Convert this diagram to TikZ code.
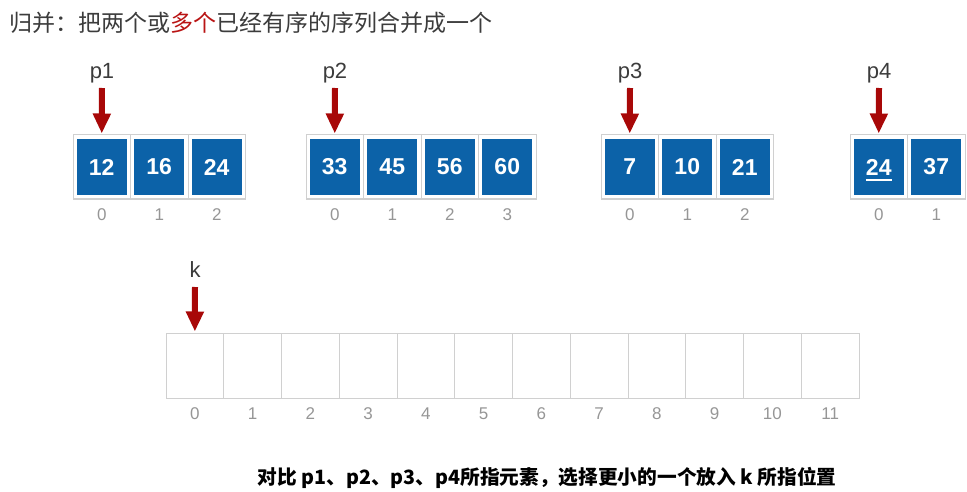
\documentclass[tikz,border=0pt]{standalone}
\usepackage{fontspec}
\setmainfont{Liberation Sans}
\newfontfamily\cjk{Noto Sans CJK SC}
\usetikzlibrary{arrows.meta}
\definecolor{cellblue}{RGB}{12,98,168}
\definecolor{ptrred}{RGB}{168,8,8}
\definecolor{gridgray}{RGB}{208,208,208}
\definecolor{idxgray}{RGB}{150,150,150}
\definecolor{titlegray}{RGB}{60,60,60}
\definecolor{hired}{RGB}{185,20,20}
\begin{document}
\begin{tikzpicture}[x=1pt,y=-1pt,
  cellbox/.style={draw=gridgray, line width=1pt, minimum width=57.5pt, minimum height=64pt, inner sep=0pt, outer sep=0pt},
  bigcell/.style={draw=gridgray, line width=1pt, minimum width=57.75pt, minimum height=65pt, inner sep=0pt, outer sep=0pt},
  valbox/.style={fill=cellblue, minimum width=50pt, minimum height=56pt, inner sep=0pt, text=white, font=\bfseries\fontsize{23}{23}\selectfont},
  idx/.style={text=idxgray, font=\fontsize{17}{17}\selectfont, inner sep=0pt},
  ptrlabel/.style={text=titlegray, font=\fontsize{22}{22}\selectfont, inner sep=0pt, anchor=base},
  ptr/.style={draw=ptrred, line width=6pt, -{Triangle[width=17pt,length=20pt]}, shorten >=1.5pt}
]
\useasboundingbox (0,0) rectangle (967,492);

% title
\node[anchor=west, inner sep=0pt, text=titlegray, font=\cjk\fontsize{23}{23}\selectfont] (title) at (9,23)
  {归并：把两个或\textcolor{hired}{多个}已经有序的序列合并成一个};

% array 1
\foreach \v [count=\i from 0] in {12,16,24} {
  \node[cellbox] (a\i) at (73+28.75+57.5*\i,167) {};
  \node[valbox] (av\i) at (a\i) {\v};
  \node[idx] (ai\i) at (73+28.75+57.5*\i,215) {\i};
}
% array 2
\foreach \v [count=\i from 0] in {33,45,56,60} {
  \node[cellbox] (b\i) at (306+28.75+57.5*\i,167) {};
  \node[valbox] (bv\i) at (b\i) {\v};
  \node[idx] (bi\i) at (306+28.75+57.5*\i,215) {\i};
}
% array 3
\foreach \v [count=\i from 0] in {7,10,21} {
  \node[cellbox] (c\i) at (601+28.75+57.5*\i,167) {};
  \node[valbox] (cv\i) at (c\i) {\v};
  \node[idx] (ci\i) at (601+28.75+57.5*\i,215) {\i};
}
% array 4
\foreach \v [count=\i from 0] in {24,37} {
  \node[cellbox] (d\i) at (850+28.75+57.5*\i,167) {};
  \node[valbox] (dv\i) at (d\i) {\v};
  \node[idx] (di\i) at (850+28.75+57.5*\i,215) {\i};
}
\draw[white, line width=1.5pt] ([xshift=-13pt,yshift=-13pt]dv0.center) -- ([xshift=13pt,yshift=-13pt]dv0.center);

% result array
\foreach \i in {0,...,11} {
  \node[bigcell] (r\i) at (166+28.875+57.75*\i,365.5) {};
  \node[idx] (ri\i) at (166+28.875+57.75*\i,414) {\i};
}

% pointers
\node[ptrlabel] (p1) at (102,79) {p1};
\node[ptrlabel] (p2) at (335,79) {p2};
\node[ptrlabel] (p3) at (630,79) {p3};
\node[ptrlabel] (p4) at (879,79) {p4};
\node[ptrlabel] (k) at (195,277) {k};
\coordinate (s1) at (102,88);
\coordinate (s2) at (335,88);
\coordinate (s3) at (630,88);
\coordinate (s4) at (879,88);
\coordinate (sk) at (195,287);
\draw[ptr] (s1) -- (a0.north);
\draw[ptr] (s2) -- (b0.north);
\draw[ptr] (s3) -- (c0.north);
\draw[ptr] (s4) -- (d0.north);
\draw[ptr] (sk) -- (r0.north);

% caption
\node[inner sep=0pt, font=\cjk\bfseries\fontsize{19.7}{19.7}\selectfont] (cap) at (547,478)
  {对比 p1、p2、p3、p4所指元素，选择更小的一个放入 k 所指位置};
\end{tikzpicture}
\end{document}
